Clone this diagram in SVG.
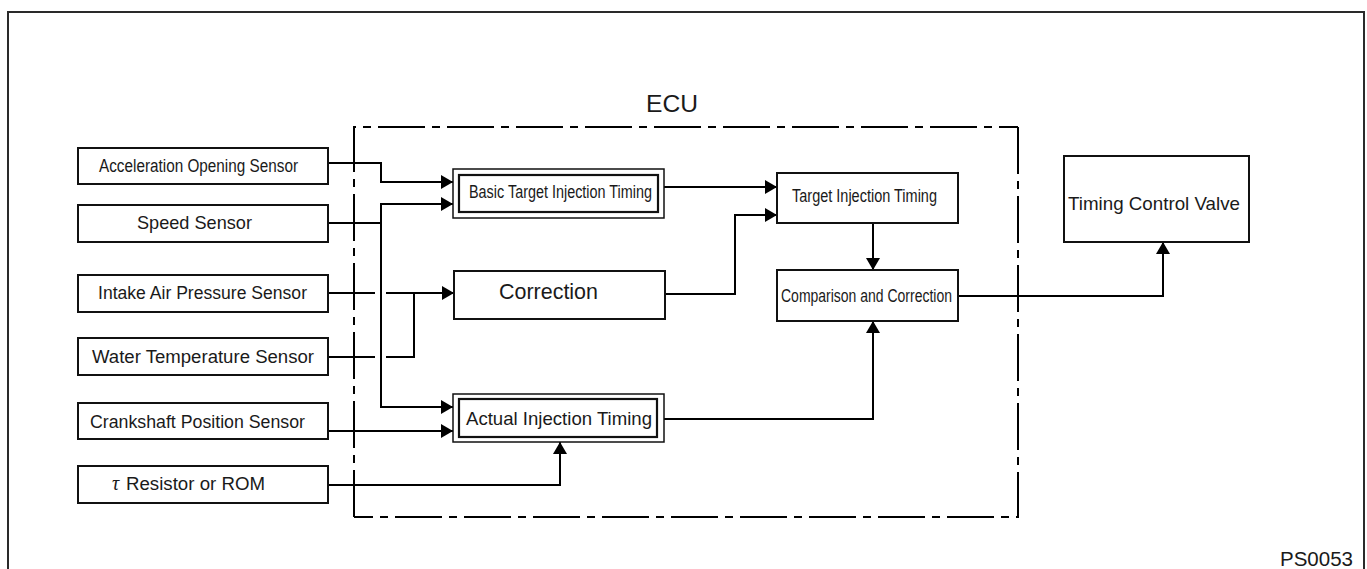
<svg xmlns="http://www.w3.org/2000/svg" width="1367" height="569" viewBox="0 0 1367 569">
<style>
.box{fill:#fff;stroke:#111;stroke-width:2}
.outer{fill:#fff;stroke:#111;stroke-width:1.5}
.inner{fill:none;stroke:#111;stroke-width:2.2}
.t{font-family:"Liberation Sans",Arial,sans-serif;fill:#1a1a1a}
.w{fill:none;stroke:#000;stroke-width:2}
.ecu{fill:none;stroke:#000;stroke-width:2;stroke-dasharray:47 7 8 7}
</style>
<defs>
<marker id="ah" markerUnits="userSpaceOnUse" markerWidth="13" markerHeight="14" refX="12" refY="7" orient="auto">
<path d="M0,0 L12,7 L0,14 z" fill="#000"/>
</marker>
</defs>
<rect width="1367" height="569" fill="#fff"/>
<path d="M8,580 V12 H1364 V580" fill="none" stroke="#2a2a2a" stroke-width="2"/>

<g id="ecu">
<path class="ecu" d="M354,517 V127 H1018"/>
<path class="ecu" d="M1018,127 V517 H354"/>
<text class="t" x="646" y="112" font-size="24.5" textLength="52" lengthAdjust="spacingAndGlyphs">ECU</text>
</g>

<g id="connectors">
<path class="w" d="M328,163 H381 V182 H453" marker-end="url(#ah)"/>
<path class="w" d="M328,223 H381 V204 H453" marker-end="url(#ah)"/>
<path class="w" d="M381,223 V407 H453" marker-end="url(#ah)"/>
<path class="w" d="M328,293 H375"/>
<path class="w" d="M386,293 H454" marker-end="url(#ah)"/>
<path class="w" d="M328,357 H375"/>
<path class="w" d="M386,357 H414 V293"/>
<path class="w" d="M328,431 H453" marker-end="url(#ah)"/>
<path class="w" d="M328,485 H560 V442" marker-end="url(#ah)"/>
<path class="w" d="M664,187 H777" marker-end="url(#ah)"/>
<path class="w" d="M665,294 H735 V215 H777" marker-end="url(#ah)"/>
<path class="w" d="M873,223 V270" marker-end="url(#ah)"/>
<path class="w" d="M664,419 H873 V321" marker-end="url(#ah)"/>
<path class="w" d="M958,296 H1163 V242" marker-end="url(#ah)"/>
</g>

<g id="accel-sensor">
<rect class="box" x="78" y="148" width="250" height="36"/>
<text class="t" x="99" y="172" font-size="18" textLength="199" lengthAdjust="spacingAndGlyphs">Acceleration Opening Sensor</text>
</g>
<g id="speed-sensor">
<rect class="box" x="78" y="205" width="250" height="37"/>
<text class="t" x="137" y="229" font-size="18.5" textLength="115" lengthAdjust="spacingAndGlyphs">Speed Sensor</text>
</g>
<g id="intake-sensor">
<rect class="box" x="78" y="275" width="250" height="37"/>
<text class="t" x="98" y="299" font-size="17.5" textLength="209" lengthAdjust="spacingAndGlyphs">Intake Air Pressure Sensor</text>
</g>
<g id="water-sensor">
<rect class="box" x="78" y="338" width="250" height="37"/>
<text class="t" x="92" y="363" font-size="17.5" textLength="222" lengthAdjust="spacingAndGlyphs">Water Temperature Sensor</text>
</g>
<g id="crank-sensor">
<rect class="box" x="78" y="403" width="250" height="36"/>
<text class="t" x="90" y="428" font-size="17.5" textLength="215" lengthAdjust="spacingAndGlyphs">Crankshaft Position Sensor</text>
</g>
<g id="resistor-rom">
<rect class="box" x="78" y="466" width="250" height="37"/>
<text class="t" x="112" y="490" font-size="17.5"><tspan font-family="Liberation Serif,serif" font-style="italic" font-size="20">τ</tspan><tspan x="126" textLength="139" lengthAdjust="spacingAndGlyphs">Resistor or ROM</tspan></text>
</g>

<g id="basic-target">
<rect class="outer" x="453" y="169" width="211" height="49"/>
<rect class="inner" x="459" y="175" width="199" height="37"/>
<text class="t" x="469" y="198" font-size="17.5" textLength="183" lengthAdjust="spacingAndGlyphs">Basic Target Injection Timing</text>
</g>
<g id="correction">
<rect class="box" x="454" y="271" width="211" height="48"/>
<text class="t" x="499" y="299" font-size="21.5" textLength="99" lengthAdjust="spacingAndGlyphs">Correction</text>
</g>
<g id="actual-timing">
<rect class="outer" x="453" y="394" width="211" height="48"/>
<rect class="inner" x="459" y="399" width="198" height="38"/>
<text class="t" x="466" y="425" font-size="18.5" textLength="186" lengthAdjust="spacingAndGlyphs">Actual Injection Timing</text>
</g>
<g id="target-timing">
<rect class="box" x="777" y="173" width="181" height="50"/>
<text class="t" x="792" y="202" font-size="17.5" textLength="145" lengthAdjust="spacingAndGlyphs">Target Injection Timing</text>
</g>
<g id="comparison">
<rect class="box" x="777" y="270" width="181" height="51"/>
<text class="t" x="781" y="302" font-size="17.5" textLength="171" lengthAdjust="spacingAndGlyphs">Comparison and Correction</text>
</g>
<g id="timing-valve">
<rect class="box" x="1064" y="156" width="185" height="86"/>
<text class="t" x="1068" y="210" font-size="18.5" textLength="172" lengthAdjust="spacingAndGlyphs">Timing Control Valve</text>
</g>

<text class="t" x="1280" y="566" font-size="20.5" textLength="73" lengthAdjust="spacingAndGlyphs">PS0053</text>
</svg>
